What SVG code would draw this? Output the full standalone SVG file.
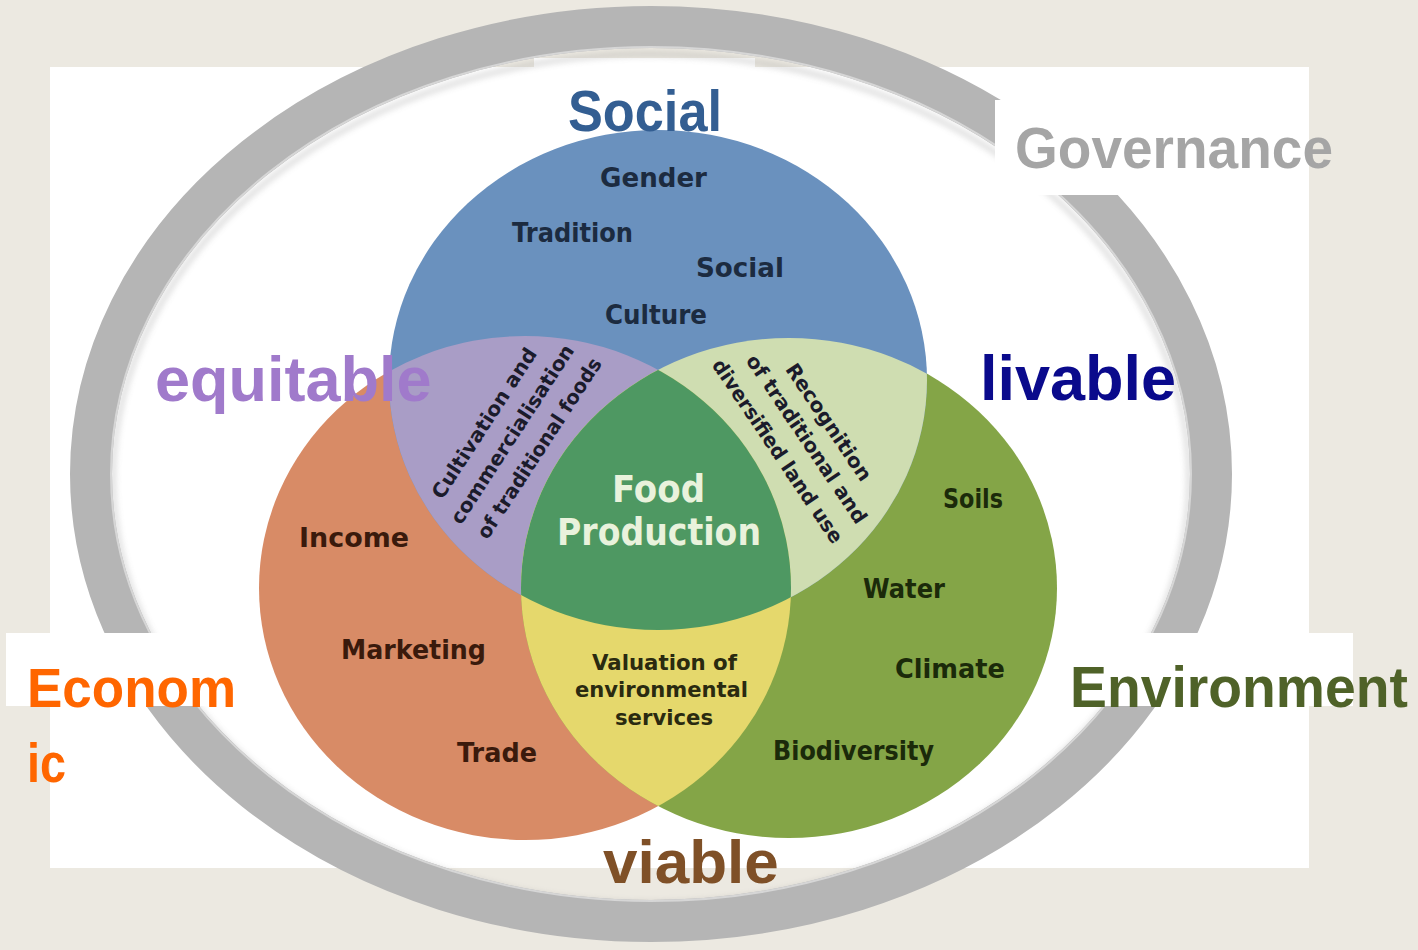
<svg xmlns="http://www.w3.org/2000/svg" width="1418" height="950" viewBox="0 0 1418 950">
<style>
.big{font-family:"Liberation Sans",Arial,sans-serif;font-weight:bold}
.lab{font-family:"DejaVu Sans","Liberation Sans",sans-serif;font-weight:bold;font-size:26px}
.lens{font-family:"DejaVu Sans","Liberation Sans",sans-serif;font-weight:bold;font-size:20px;fill:#1b1b2b}
.wbox{fill:#ffffff}
</style>
<defs>
<clipPath id="cB"><ellipse cx="658" cy="380" rx="269" ry="250"/></clipPath>
<clipPath id="cO"><ellipse cx="525" cy="588" rx="266" ry="252"/></clipPath>
<clipPath id="cG"><ellipse cx="789" cy="588" rx="268" ry="250"/></clipPath>
<filter id="sh" x="-10%" y="-10%" width="120%" height="120%"><feGaussianBlur stdDeviation="3"/></filter>
</defs>
<rect x="0" y="0" width="1418" height="950" fill="#ECE9E1"/>
<rect class="wbox" x="50" y="67" width="1259" height="801"/>
<rect class="wbox" x="534" y="58" width="221" height="20"/>
<g id="ring">
<ellipse cx="651" cy="479" rx="538" ry="425" fill="none" stroke="#9a9a9a" stroke-width="4" opacity="0.45" filter="url(#sh)"/>
<ellipse cx="651" cy="474" rx="560" ry="447" fill="none" stroke="#B5B5B5" stroke-width="42"/>
<ellipse cx="651" cy="474" rx="540" ry="427" fill="none" stroke="#D6D6D6" stroke-width="2"/>
</g>
<rect class="wbox" x="6" y="633" width="258" height="73"/>
<rect class="wbox" x="1050" y="633" width="303" height="73"/>
<rect class="wbox" x="995" y="100" width="314" height="95"/>
<g id="venn">
<g id="economic-circle"><ellipse cx="525" cy="588" rx="266" ry="252" fill="#D88B66"/></g>
<g id="environment-circle"><ellipse cx="789" cy="588" rx="268" ry="250" fill="#84A547"/></g>
<g id="social-circle"><ellipse cx="658" cy="380" rx="269" ry="250" fill="#6A91BE"/></g>
<g id="social-economic"><ellipse cx="525" cy="588" rx="266" ry="252" fill="#A99DC6" clip-path="url(#cB)"/></g>
<g id="social-environment"><ellipse cx="789" cy="588" rx="268" ry="250" fill="#CFDDB1" clip-path="url(#cB)"/></g>
<g id="economic-environment"><ellipse cx="789" cy="588" rx="268" ry="250" fill="#E5D86C" clip-path="url(#cO)"/></g>
<g id="food-production" clip-path="url(#cB)"><ellipse cx="789" cy="588" rx="268" ry="250" fill="#4E9862" clip-path="url(#cO)"/></g>
</g>
<g id="labels-social" class="lab" fill="#1C2B40">
<text x="600" y="187" textLength="107" lengthAdjust="spacingAndGlyphs">Gender</text>
<text x="512" y="242" textLength="121" lengthAdjust="spacingAndGlyphs">Tradition</text>
<text x="696" y="277" textLength="88" lengthAdjust="spacingAndGlyphs">Social</text>
<text x="605" y="324" textLength="102" lengthAdjust="spacingAndGlyphs">Culture</text>
</g>
<g id="labels-economic" class="lab" fill="#3A1A0C">
<text x="299" y="547" textLength="110" lengthAdjust="spacingAndGlyphs">Income</text>
<text x="341" y="659" textLength="145" lengthAdjust="spacingAndGlyphs">Marketing</text>
<text x="457" y="762" textLength="80" lengthAdjust="spacingAndGlyphs">Trade</text>
</g>
<g id="labels-environment" class="lab" fill="#1B2A0A">
<text x="943" y="508" textLength="60" lengthAdjust="spacingAndGlyphs">Soils</text>
<text x="863" y="598" textLength="82" lengthAdjust="spacingAndGlyphs">Water</text>
<text x="895" y="678" textLength="110" lengthAdjust="spacingAndGlyphs">Climate</text>
<text x="773" y="760" textLength="161" lengthAdjust="spacingAndGlyphs">Biodiversity</text>
</g>
<g id="label-food" class="lab" fill="#E9F2DC" style="font-size:37px">
<text x="612" y="502" textLength="93" lengthAdjust="spacingAndGlyphs">Food</text>
<text x="557" y="545" textLength="204" lengthAdjust="spacingAndGlyphs">Production</text>
</g>
<g id="label-valuation" class="lab" fill="#2A2A10" style="font-size:21px">
<text x="592" y="670" textLength="145" lengthAdjust="spacingAndGlyphs">Valuation of</text>
<text x="575" y="697" textLength="173" lengthAdjust="spacingAndGlyphs">environmental</text>
<text x="615" y="725" textLength="98" lengthAdjust="spacingAndGlyphs">services</text>
</g>
<g id="label-cultivation" class="lens" text-anchor="middle">
<text transform="translate(490,427) rotate(-57)" textLength="175" lengthAdjust="spacingAndGlyphs">Cultivation and</text>
<text transform="translate(518,438) rotate(-57)" textLength="209" lengthAdjust="spacingAndGlyphs">commercialisation</text>
<text transform="translate(545,452) rotate(-57)" textLength="211" lengthAdjust="spacingAndGlyphs">of traditional foods</text>
</g>
<g id="label-recognition" class="lens" text-anchor="middle">
<text transform="translate(823,426) rotate(56)" textLength="137" lengthAdjust="spacingAndGlyphs">Recognition</text>
<text transform="translate(801,443) rotate(56)" textLength="199" lengthAdjust="spacingAndGlyphs">of traditional and</text>
<text transform="translate(772,455) rotate(56)" textLength="217" lengthAdjust="spacingAndGlyphs">diversified land use</text>
</g>
<g id="outer-labels" class="big">
<text x="568" y="131" font-size="57" fill="#335E92" textLength="154" lengthAdjust="spacingAndGlyphs">Social</text>
<text x="1015" y="168" font-size="57" fill="#A5A5A5" textLength="318" lengthAdjust="spacingAndGlyphs">Governance</text>
<text x="155" y="401" font-size="63" fill="#A07ACB">equitable</text>
<text x="980" y="400" font-size="63" fill="#0A0A8C">livable</text>
<text x="27" y="707" font-size="56" fill="#FF6600" textLength="209" lengthAdjust="spacingAndGlyphs">Econom</text>
<text x="27" y="782" font-size="56" fill="#FF6600" textLength="39" lengthAdjust="spacingAndGlyphs">ic</text>
<text x="1070" y="707" font-size="58" fill="#4F6228" textLength="338" lengthAdjust="spacingAndGlyphs">Environment</text>
<text x="603" y="883" font-size="62" fill="#7F5027">viable</text>
</g>
</svg>
